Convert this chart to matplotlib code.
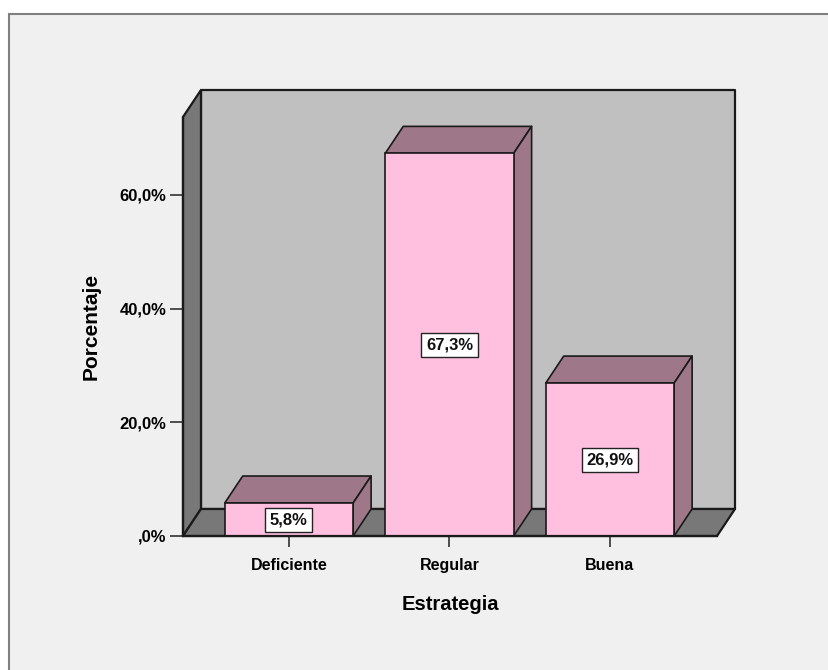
"""Simple 3D-look bar chart of Estrategia percentages."""

import matplotlib

matplotlib.use("Agg")
import matplotlib.pyplot as plt
from matplotlib.patches import Polygon, Rectangle

categories = ["Deficiente", "Regular", "Buena"]
percentages = [5.8, 67.3, 26.9]
bar_labels = ["5,8%", "67,3%", "26,9%"]
y_ticks = [0, 20, 40, 60]
y_tick_labels = [",0%", "20,0%", "40,0%", "60,0%"]

W, H = 829, 670
AX_LEFT, AX_RIGHT, AX_TOP, AX_BOTTOM = 183, 717, 117, 536
XMIN, XMAX = -0.66, 2.667
YMAX = 73.7
DX, DY = 0.112, 4.75  # depth offset in data units
BAR_W = 0.8

EDGE = "#1a1a1a"
WALL = "#c0c0c0"
FLOOR = "#787878"
BAR = "#ffc0e0"
BAR_DARK = "#9e7888"
BG = "#f0f0f0"

plt.rcParams["font.family"] = ["Liberation Sans", "DejaVu Sans"]
plt.rcParams["font.weight"] = "bold"

fig = plt.figure(figsize=(W / 100, H / 100), dpi=100, facecolor="white")
# panel with a grey frame, runs off the right and bottom edges
fig.add_artist(Rectangle((9 / W, 0 - 5 / H), (W + 10) / W, (H - 14 + 5) / H, transform=fig.transFigure,
                         facecolor=BG, edgecolor="#808080", linewidth=1.5, zorder=-1))

ax = fig.add_axes([AX_LEFT / W, 1 - AX_BOTTOM / H, (AX_RIGHT - AX_LEFT) / W, (AX_BOTTOM - AX_TOP) / H])
ax.patch.set_visible(False)
ax.set_xlim(XMIN, XMAX)
ax.set_ylim(0, YMAX)


def poly(pts, color, z=1, lw=1.2):
    ax.add_patch(Polygon(pts, closed=True, facecolor=color, edgecolor=EDGE, linewidth=lw, zorder=z,
                         clip_on=False, joinstyle="round"))


# walls and floor
poly([(XMIN + DX, DY), (XMAX + DX, DY), (XMAX + DX, YMAX + DY), (XMIN + DX, YMAX + DY)], WALL, 1, 1.6)
poly([(XMIN, 0), (XMIN + DX, DY), (XMIN + DX, YMAX + DY), (XMIN, YMAX)], FLOOR, 1, 1.6)
poly([(XMIN, 0), (XMAX, 0), (XMAX + DX, DY), (XMIN + DX, DY)], FLOOR, 1, 1.6)

# bars
for i, val in enumerate(percentages):
    x0, x1 = i - BAR_W / 2, i + BAR_W / 2
    poly([(x0, val), (x1, val), (x1 + DX, val + DY), (x0 + DX, val + DY)], BAR_DARK, 2)
    poly([(x1, 0), (x1 + DX, DY), (x1 + DX, val + DY), (x1, val)], BAR_DARK, 2)
    ax.bar(i, val, width=BAR_W, color=BAR, edgecolor=EDGE, linewidth=1.2, zorder=3)
    ax.text(i, val / 2, bar_labels[i], ha="center", va="center", fontsize=12, color="#111111", zorder=4,
            bbox=dict(boxstyle="square,pad=0.27", facecolor="white", edgecolor="#222222", linewidth=1))

for side in ["top", "right"]:
    ax.spines[side].set_visible(False)
for side in ["left", "bottom"]:
    ax.spines[side].set_linewidth(1.6)
    ax.spines[side].set_color(EDGE)
    ax.spines[side].set_zorder(5)

ax.set_xticks(range(len(categories)), categories)
ax.set_yticks(y_ticks, y_tick_labels)
ax.tick_params(axis="x", length=8, width=1.2, color="#333333", labelsize=11.5, pad=8)
ax.tick_params(axis="y", length=9.5, width=1.2, color="#333333", labelsize=12, pad=2.5)
ax.set_xlabel("Estrategia", fontsize=14.5, fontweight="bold", labelpad=16)
ax.set_ylabel("Porcentaje", fontsize=15, fontweight="bold", labelpad=13.5)

fig.savefig("out.png", dpi=100)
